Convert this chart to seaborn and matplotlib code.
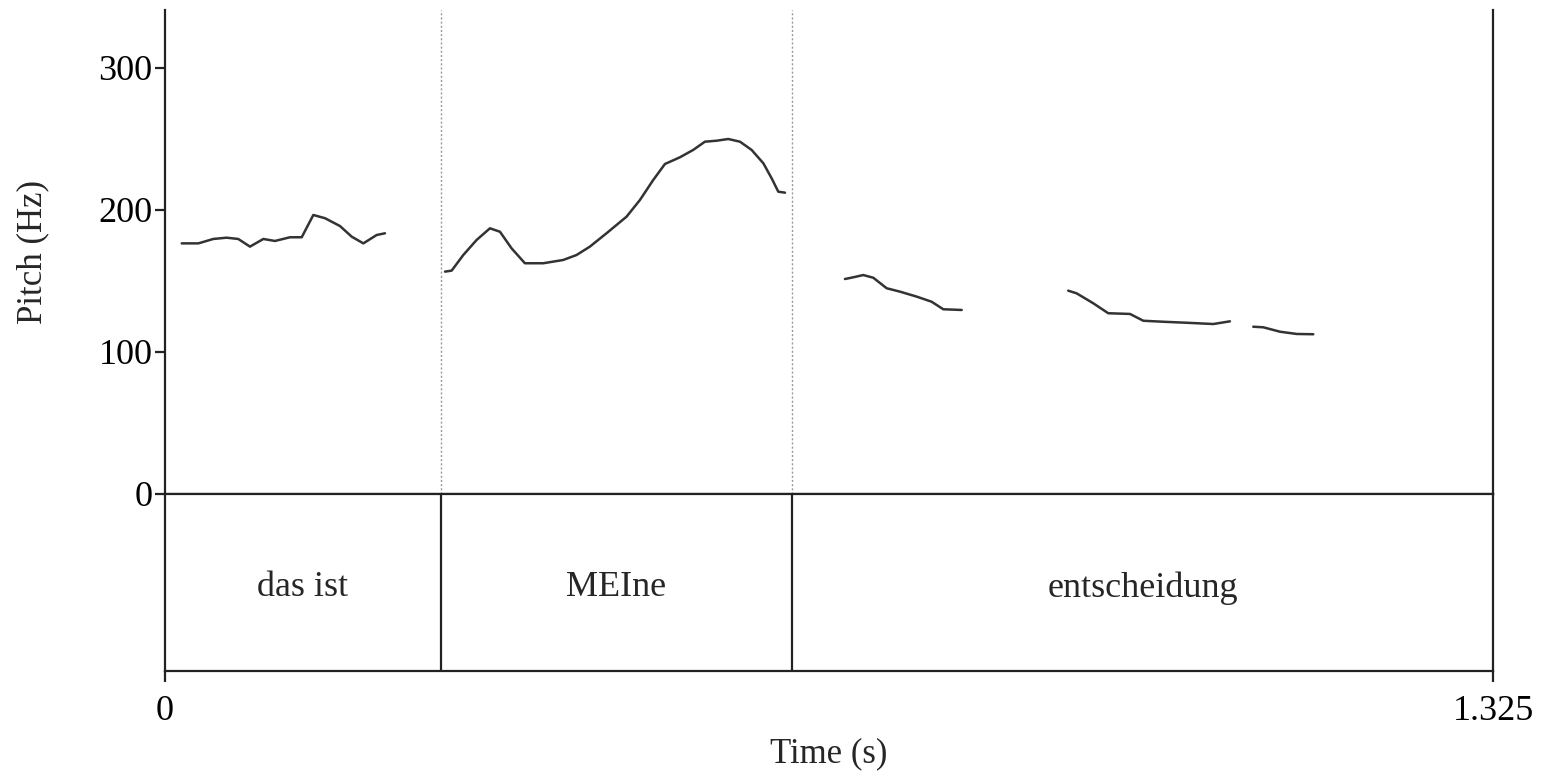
import matplotlib
matplotlib.use("Agg")
import matplotlib.pyplot as plt
import seaborn as sns
import pandas as pd
import numpy as np

# ---------------- data ----------------
seg1_t = [0.0167, 0.0333, 0.0482, 0.0615, 0.0731, 0.0848, 0.0981, 0.1097, 0.1247,
          0.1364, 0.1480, 0.1597, 0.1746, 0.1863, 0.1979, 0.2112, 0.2195]
seg1_f = [176.5, 176.5, 179.6, 180.5, 179.6, 174.2, 179.6, 178.2, 180.8,
          180.8, 196.5, 194.2, 188.7, 181.2, 176.5, 182.4, 183.6]

seg2_t = [0.2794, 0.2860, 0.2976, 0.3109, 0.3242, 0.3342, 0.3458, 0.3591, 0.3774,
          0.3973, 0.4106, 0.4239, 0.4405, 0.4605, 0.4738, 0.4871, 0.4988, 0.5137,
          0.5270, 0.5387, 0.5504, 0.5620, 0.5737, 0.5853, 0.5970, 0.6053, 0.6119, 0.6186]
seg2_f = [156.6, 157.3, 168.3, 178.9, 187.1, 184.7, 173.0, 162.5, 162.5,
          164.8, 168.3, 174.2, 183.6, 195.3, 207.0, 221.1, 232.4, 237.1,
          242.3, 248.1, 248.8, 250.0, 248.1, 242.3, 232.9, 222.3, 212.9, 212.2]

seg3_t = [0.6784, 0.6867, 0.6967, 0.7067, 0.7200, 0.7333, 0.7500, 0.7649, 0.7765, 0.7949]
seg3_f = [151.4, 152.6, 154.2, 152.3, 144.9, 142.5, 139.0, 135.4, 130.1, 129.6]

seg4_t = [0.9012, 0.9096, 0.9262, 0.9411, 0.9628, 0.9761, 0.9960, 1.0193, 1.0459, 1.0625]
seg4_f = [143.2, 141.3, 134.3, 127.3, 126.8, 122.0, 121.3, 120.6, 119.7, 121.6]

seg5_t = [1.0858, 1.0958, 1.1124, 1.1291, 1.1457]
seg5_f = [117.8, 117.4, 114.3, 112.7, 112.5]

boundaries = [0.2754, 0.6256]
words = ["das ist", "MEIne", "entscheidung"]
t_start, t_end = 0.0, 1.325
y_ticks = [0, 100, 200, 300]
x_tick_labels = ["0", "1.325"]

# ---------------- build table ----------------
segments = [(seg1_t, seg1_f), (seg2_t, seg2_f), (seg3_t, seg3_f),
            (seg4_t, seg4_f), (seg5_t, seg5_f)]
rows = []
for i, (ts, fs) in enumerate(segments):
    for t, f in zip(ts, fs):
        rows.append({"time": t, "pitch": f, "seg": i})
df = pd.DataFrame(rows)

# ---------------- style ----------------
sns.set_theme(style="white")
plt.rcParams["font.family"] = ["Liberation Serif", "DejaVu Serif"]
FS = 26
FS_LAB = 25

W, H = 1549, 775
fig = plt.figure(figsize=(W / 100, H / 100), dpi=100)
fig.patch.set_facecolor("white")

left, right = 165, 1493
p_top, p_bot, t_bot = 10, 494, 671
ax_p = fig.add_axes([left / W, 1 - p_bot / H, (right - left) / W, (p_bot - p_top) / H])
ax_t = fig.add_axes([left / W, 1 - t_bot / H, (right - left) / W, (t_bot - p_bot) / H])

line_col = "#222222"
lw_axis = 1.6

# pitch panel
ymax = (p_bot - p_top) / 1.42
sns.lineplot(data=df, x="time", y="pitch", units="seg", estimator=None,
             color="#333333", linewidth=1.8, ax=ax_p, legend=False)
ax_p.vlines(boundaries, 0, ymax, colors="0.6", linestyles=(0, (1.5, 1.5)), linewidth=1.0)
ax_p.set_xlim(t_start, t_end)
ax_p.set_ylim(0, ymax)
ax_p.set_yticks(y_ticks)
ax_p.set_yticklabels([str(v) for v in y_ticks], fontsize=FS)
ax_p.set_xticks([])
ax_p.set_xlabel("")
ax_p.set_ylabel("")
ax_p.spines["top"].set_visible(False)
for s in ["left", "right", "bottom"]:
    ax_p.spines[s].set_color(line_col)
    ax_p.spines[s].set_linewidth(lw_axis)
ax_p.tick_params(axis="y", which="both", left=True, length=7, width=1.6,
                 color=line_col, pad=2, labelcolor="black")
ax_p.set_facecolor("white")

# tier panel
ax_t.set_xlim(t_start, t_end)
ax_t.set_ylim(0, 1)
for b in boundaries:
    ax_t.axvline(b, color=line_col, linewidth=lw_axis)
edges = [t_start] + boundaries + [t_end]
for w, a, b in zip(words, edges[:-1], edges[1:]):
    ax_t.text((a + b) / 2, 0.47, w, ha="center", va="center", fontsize=FS)
ax_t.set_yticks([])
ax_t.set_xticks([t_start, t_end])
ax_t.set_xticklabels(x_tick_labels, fontsize=FS)
ax_t.tick_params(axis="x", which="both", bottom=True, length=8, width=1.6,
                 color=line_col, pad=9, labelcolor="black")
for s in ["left", "right", "bottom", "top"]:
    ax_t.spines[s].set_color(line_col)
    ax_t.spines[s].set_linewidth(lw_axis)
ax_t.set_facecolor("white")

fig.text(33 / W, 1 - 252 / H, "Pitch (Hz)", rotation=90, ha="center", va="center", fontsize=FS_LAB)
fig.text(829 / W, 1 - 754 / H, "Time (s)", ha="center", va="center", fontsize=FS_LAB)

fig.savefig("out.png", dpi=100, facecolor="white")
